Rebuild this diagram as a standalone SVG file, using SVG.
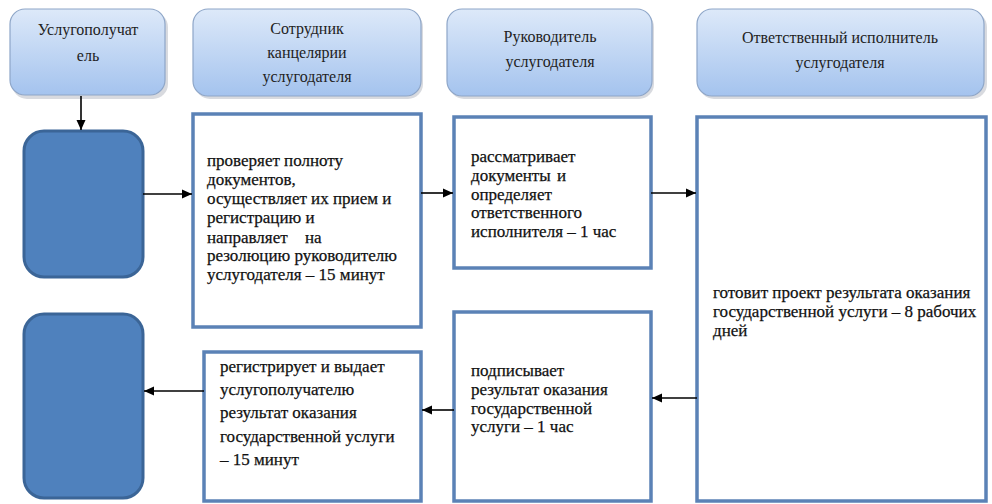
<svg xmlns="http://www.w3.org/2000/svg" width="992" height="504" viewBox="0 0 992 504">
<style>
.hdr{fill:url(#hg);stroke:#8ea6c8;stroke-width:1.2}
.hshadow{fill:#b8bcc4;opacity:0.55}
.ht{font-size:16px;fill:#222;text-anchor:middle}
.blue{fill:#4f81bd;stroke:#3b6597;stroke-width:3}
.box{fill:#ffffff;stroke:#5b82b6;stroke-width:3.5}
.bt{font-size:17px;fill:#111;stroke:#111;stroke-width:0.25}
.conn{stroke:#000;stroke-width:1.6;fill:none;marker-end:url(#ah)}
</style>
<defs>
<linearGradient id="hg" x1="0" y1="0" x2="0" y2="1">
<stop offset="0" stop-color="#dde9f9"/>
<stop offset="1" stop-color="#a4c3ee"/>
</linearGradient>
<marker id="ah" viewBox="0 0 10 10" refX="10" refY="5" markerWidth="10" markerHeight="10" markerUnits="userSpaceOnUse" orient="auto">
<path d="M0,0.5 L10,5 L0,9.5 z" fill="#000"/>
</marker>
</defs>
<rect width="992" height="504" fill="#ffffff"/>

<g id="h1">
<rect class="hshadow" x="12" y="12" width="156" height="87" rx="15"/>
<rect class="hdr" x="10" y="9" width="155" height="86" rx="15"/>
<text class="ht" font-family="Liberation Serif" x="88" y="35">Услугополучат</text>
<text class="ht" font-family="Liberation Serif" x="88" y="61">ель</text>
</g>
<g id="h2">
<rect class="hshadow" x="195" y="12" width="228" height="87" rx="15"/>
<rect class="hdr" x="193" y="9" width="228" height="87" rx="15"/>
<text class="ht" font-family="Liberation Serif" x="307" y="34">Сотрудник</text>
<text class="ht" font-family="Liberation Serif" x="307" y="58">канцелярии</text>
<text class="ht" font-family="Liberation Serif" x="307" y="82">услугодателя</text>
</g>
<g id="h3">
<rect class="hshadow" x="449" y="12" width="205" height="87" rx="15"/>
<rect class="hdr" x="447" y="9" width="205" height="87" rx="15"/>
<text class="ht" font-family="Liberation Serif" x="550" y="42">Руководитель</text>
<text class="ht" font-family="Liberation Serif" x="550" y="67">услугодателя</text>
</g>
<g id="h4">
<rect class="hshadow" x="699" y="12" width="288" height="87" rx="15"/>
<rect class="hdr" x="697" y="9" width="287" height="87" rx="15"/>
<text class="ht" font-family="Liberation Serif" x="840" y="43">Ответственный исполнитель</text>
<text class="ht" font-family="Liberation Serif" x="840" y="68">услугодателя</text>
</g>

<g id="start">
<rect class="blue" x="24" y="131" width="119" height="146" rx="20"/>
</g>
<g id="end">
<rect class="blue" x="24" y="314" width="119" height="184" rx="20"/>
</g>

<g id="boxA">
<rect class="box" x="193" y="114" width="228" height="213"/>
<text class="bt" font-family="Liberation Serif" x="207" y="166">проверяет полноту</text>
<text class="bt" font-family="Liberation Serif" x="207" y="185">документов,</text>
<text class="bt" font-family="Liberation Serif" x="207" y="204">осуществляет их прием и</text>
<text class="bt" font-family="Liberation Serif" x="207" y="223">регистрацию и</text>
<text class="bt" font-family="Liberation Serif" x="207" y="243">направляет<tspan x="305">на</tspan></text>
<text class="bt" font-family="Liberation Serif" x="207" y="261">резолюцию руководителю</text>
<text class="bt" font-family="Liberation Serif" x="207" y="280">услугодателя – 15 минут</text>
</g>
<g id="boxB">
<rect class="box" x="454" y="117" width="197" height="151"/>
<text class="bt" font-family="Liberation Serif" x="471" y="162">рассматривает</text>
<text class="bt" font-family="Liberation Serif" x="471" y="181">документы<tspan x="557">и</tspan></text>
<text class="bt" font-family="Liberation Serif" x="471" y="200">определяет</text>
<text class="bt" font-family="Liberation Serif" x="471" y="218">ответственного</text>
<text class="bt" font-family="Liberation Serif" x="471" y="237">исполнителя – 1 час</text>
</g>
<g id="boxC">
<rect class="box" x="697" y="117" width="289" height="384"/>
<text class="bt" font-family="Liberation Serif" x="713" y="298">готовит проект результата оказания</text>
<text class="bt" font-family="Liberation Serif" x="713" y="317">государственной услуги – 8 рабочих</text>
<text class="bt" font-family="Liberation Serif" x="713" y="336">дней</text>
</g>
<g id="boxD">
<rect class="box" x="454" y="312" width="197" height="189"/>
<text class="bt" font-family="Liberation Serif" x="471" y="376">подписывает</text>
<text class="bt" font-family="Liberation Serif" x="471" y="395">результат оказания</text>
<text class="bt" font-family="Liberation Serif" x="471" y="414">государственной</text>
<text class="bt" font-family="Liberation Serif" x="471" y="432">услуги – 1 час</text>
</g>
<g id="boxE">
<rect class="box" x="204" y="352" width="217" height="149"/>
<text class="bt" font-family="Liberation Serif" x="220" y="372">регистрирует и выдает</text>
<text class="bt" font-family="Liberation Serif" x="220" y="395">услугополучателю</text>
<text class="bt" font-family="Liberation Serif" x="220" y="418">результат оказания</text>
<text class="bt" font-family="Liberation Serif" x="220" y="442">государственной услуги</text>
<text class="bt" font-family="Liberation Serif" x="220" y="465">– 15 минут</text>
</g>

<g id="connectors">
<line class="conn" x1="81" y1="96" x2="81" y2="130"/>
<line class="conn" x1="143" y1="194" x2="192" y2="194"/>
<line class="conn" x1="421" y1="193" x2="453" y2="193"/>
<line class="conn" x1="651" y1="193" x2="696" y2="193"/>
<line class="conn" x1="697" y1="398" x2="652" y2="398"/>
<line class="conn" x1="454" y1="410" x2="422" y2="410"/>
<line class="conn" x1="204" y1="391" x2="144" y2="391"/>
</g>
</svg>
